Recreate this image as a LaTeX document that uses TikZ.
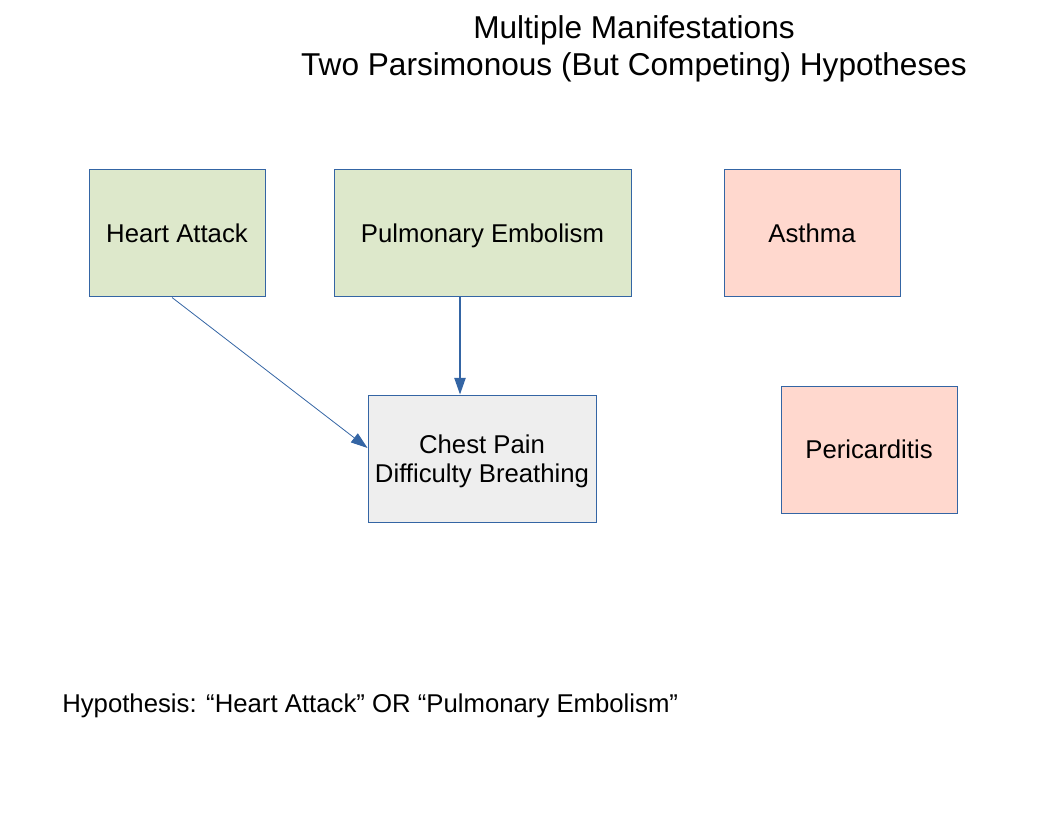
\documentclass[tikz,border=0pt]{standalone}
\usepackage{fontspec}
\setmainfont{Liberation Sans}
\usetikzlibrary{arrows.meta}
\definecolor{bordc}{HTML}{3465A4}
\definecolor{greenf}{HTML}{DDE8CB}
\definecolor{pinkf}{HTML}{FFD8CE}
\definecolor{greyf}{HTML}{EEEEEE}
\begin{document}
\begin{tikzpicture}[x=0.75pt,y=-0.75pt,
  box/.style={draw=bordc,line width=0.75pt,minimum height=95.25pt,inner sep=0pt,
    text depth=0pt,font=\fontsize{19.3}{21.75}\selectfont,align=center},
  conn/.style={draw=bordc,-{Triangle[length=12.5pt,width=8.5pt]}}]
\useasboundingbox (0,0) rectangle (1056,816);
\node[font=\fontsize{23.7}{27.75}\selectfont,align=center] (title) at (634,48.5)
  {Multiple Manifestations\\Two Parsimonous (But Competing) Hypotheses};
\node[box,fill=greenf,minimum width=132pt] (heart) at (177,233.5) {Heart Attack};
\node[box,fill=greenf,minimum width=222.75pt] (pul) at (482.5,233.5) {Pulmonary Embolism};
\node[box,fill=pinkf,minimum width=132pt] (asthma) at (812,233.5) {Asthma};
\node[box,fill=greyf,minimum width=171pt] (chest) at (482,458.5) {Chest Pain\\Difficulty Breathing};
\node[box,fill=pinkf,minimum width=132pt] (peri) at (869,449.5) {Pericarditis};
\coordinate (hx) at (172,0);
\coordinate (hy) at (0,448);
\coordinate (vx) at (460,0);
\draw[conn,line width=0.6pt] (heart.south -| hx) -- (chest.west |- hy);
\draw[conn,line width=1pt] (pul.south -| vx) -- (chest.north -| vx);
\node[anchor=west,inner sep=0pt,font=\fontsize{19.3}{21.75}\selectfont] (hyp) at (62,706)
  {Hypothesis: “Heart Attack” OR “Pulmonary Embolism”};
\end{tikzpicture}
\end{document}
